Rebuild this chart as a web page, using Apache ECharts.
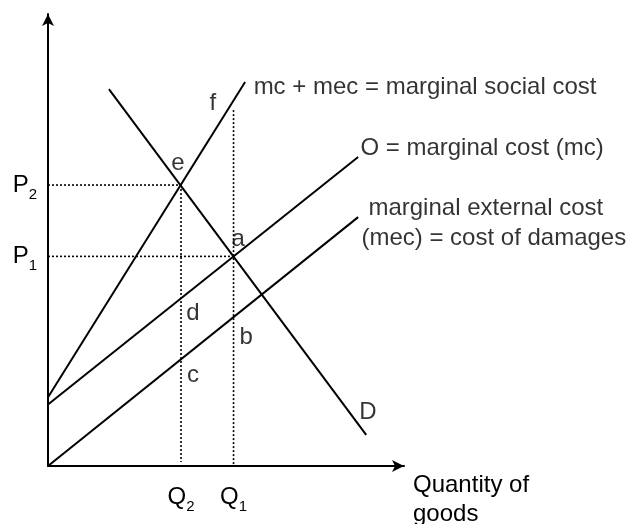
<!DOCTYPE html>
<html>
<head>
<meta charset="utf-8">
<script src="https://cdn.jsdelivr.net/npm/echarts@6/dist/echarts.min.js"></script>
<style>
    html, body { margin: 0; padding: 0; background: #fff; }
    #chart { width: 630px; height: 524px; }
</style>
</head>
<body>
<div id="chart"></div>
<script>
    // curves, as two end points each (quantity, price)
    var mscLine = [[0, 15.4], [56.3, 86.1]];
    var mcLine = [[0, 13.8], [88.6, 69.3]];
    var mecLine = [[0, 0], [88.6, 55.8]];
    var demandLine = [[17.4, 84.5], [90.9, 7.0]];

    // equilibrium values
    var qValues = [38, 53];
    var qNames = ['2', '1'];
    var pValues = [47, 63];
    var pNames = ['1', '2'];
    var fTop = 79.8;

    // point letters
    var pointLetters = ['f', 'e', 'a', 'd', 'b', 'c', 'D'];
    var pointX = [47.1, 37.1, 54.3, 41.4, 56.6, 41.4, 91.4];
    var pointY = [81.4, 67.9, 50.9, 34.3, 28.9, 20.4, 12.1];

    // curve names
    var curveNames = ['mc + mec = marginal social cost', 'O = marginal cost (mc)',
        'marginal external cost', '(mec) = cost of damages'];
    var curveX = [58.6, 89.1, 91.4, 89.4];
    var curveY = [85.0, 71.3, 57.8, 51.1];

    var font = 'Liberation Sans, Arial, sans-serif';
    // subscript sits lower than the letter
    var subRich = {
        m: {fontSize: 24, lineHeight: 24, fontFamily: font, color: '#000', verticalAlign: 'middle'},
        s: {fontSize: 15, lineHeight: 34, fontFamily: font, color: '#000', verticalAlign: 'bottom'}
    };

    function solid(data) {
        return {
            type: 'line', data: data, symbol: 'none', silent: true,
            lineStyle: {color: '#000', width: 2}
        };
    }
    function dotted(data) {
        return {
            type: 'line', data: data, symbol: 'none', silent: true,
            lineStyle: {color: '#000', width: 1.6, type: [2, 2]}
        };
    }

    var myChart = echarts.init(document.getElementById('chart'));

    var option = {
        animation: false,
        backgroundColor: '#fff',
        grid: {left: 48, right: 226, top: 14, bottom: 58, outerBoundsMode: 'none'},
        xAxis: {
            type: 'value', min: 0, max: 101.7,
            splitLine: {show: false},
            axisTick: {show: false},
            axisLine: {lineStyle: {color: '#000', width: 2}, symbol: ['none', 'arrow'], symbolSize: [9, 12]},
            axisLabel: {
                customValues: qValues,
                margin: 14,
                rich: subRich,
                formatter: function (v) {
                    return '{m|Q}{s|' + qNames[qValues.indexOf(v)] + '}';
                }
            },
            name: 'Quantity of\ngoods',
            nameLocation: 'end',
            nameGap: 9,
            nameTextStyle: {
                fontSize: 24, lineHeight: 29, fontFamily: font, color: '#000',
                align: 'left', verticalAlign: 'top', padding: [5, 0, 0, 0]
            }
        },
        yAxis: {
            type: 'value', min: 0, max: 101.35,
            splitLine: {show: false},
            axisTick: {show: false},
            axisLine: {lineStyle: {color: '#000', width: 2}, symbol: ['none', 'arrow'], symbolSize: [9, 12]},
            axisLabel: {
                customValues: pValues,
                margin: 11,
                rich: subRich,
                formatter: function (v) {
                    return '{m|P}{s|' + pNames[pValues.indexOf(v)] + '}';
                }
            }
        },
        series: [
            solid(mscLine),
            solid(mcLine),
            solid(mecLine),
            solid(demandLine),
            dotted([[0, pValues[1]], [qValues[0], pValues[1]]]),
            dotted([[0, pValues[0]], [qValues[1], pValues[0]]]),
            dotted([[qValues[0], pValues[1]], [qValues[0], 0.9]]),
            dotted([[qValues[1], fTop], [qValues[1], 0]]),
            {
                type: 'scatter', symbolSize: 1, silent: true,
                itemStyle: {color: 'rgba(0,0,0,0)'},
                data: pointLetters.map(function (t, i) { return [pointX[i], pointY[i], t]; }),
                label: {
                    show: true, position: 'inside', color: '#000',
                    fontSize: 24, fontFamily: font,
                    formatter: function (p) { return p.value[2]; }
                }
            },
            {
                type: 'scatter', symbolSize: 1, silent: true,
                itemStyle: {color: 'rgba(0,0,0,0)'},
                data: curveNames.map(function (t, i) { return [curveX[i], curveY[i], t]; }),
                label: {
                    show: true, position: 'right', distance: 0, color: '#000',
                    fontSize: 24, fontFamily: font,
                    formatter: function (p) { return p.value[2]; }
                }
            }
        ]
    };
    myChart.setOption(option);
</script>
</body>
</html>
